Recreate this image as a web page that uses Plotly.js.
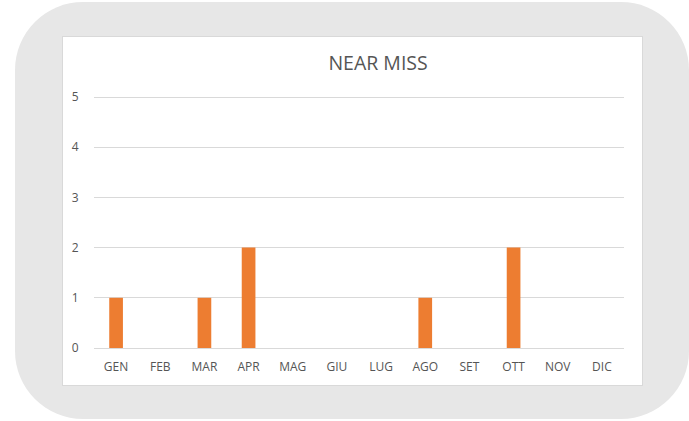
<!DOCTYPE html>
<html><head><meta charset="utf-8">
<script src="https://cdn.plot.ly/plotly-3.0.1.min.js"></script>
<style>
html,body{margin:0;padding:0;background:#fff;width:689px;height:421px;overflow:hidden;}
#outer{position:absolute;left:15px;top:2px;width:674px;height:417px;background:#e7e7e7;border-radius:68px;}
#inner{position:absolute;left:62px;top:36px;width:579px;height:348px;background:#fff;border:1px solid #d9d9d9;}
#chart{position:absolute;left:0;top:0;width:689px;height:421px;}
</style></head>
<body>
<div id="outer"></div><div id="inner"></div>
<div id="chart"></div>
<script>
const months = ["GEN","FEB","MAR","APR","MAG","GIU","LUG","AGO","SET","OTT","NOV","DIC"];
const nearMiss = [1,0,1,2,0,0,0,1,0,2,0,0];
const yTicks = [0,1,2,3,4,5];
const font = "'Open Sans', sans-serif";
Plotly.newPlot('chart', [{
  type:'bar', x:months, y:nearMiss,
  marker:{color:'#ED7D31'}, hoverinfo:'x+y'
}], {
  width:689, height:421,
  margin:{l:94, r:65, t:95, b:73, pad:0},
  paper_bgcolor:'rgba(0,0,0,0)', plot_bgcolor:'rgba(0,0,0,0)',
  bargap:0.69,
  showlegend:false,
  title:{text:'NEAR MISS', x:0.536, xref:'paper', xanchor:'center', y:1-63/421, yref:'container', yanchor:'middle',
    font:{family:font, size:19.5, color:'#555555'}},
  xaxis:{type:'category', showgrid:false, zeroline:false, showline:true, linecolor:'#d9d9d9', linewidth:1,
    ticks:'outside', ticklen:8, tickcolor:'rgba(0,0,0,0)',
    tickfont:{family:font, size:12, color:'#555555'}},
  yaxis:{range:[0,5.04], tickvals:yTicks, showgrid:true, gridcolor:'#d9d9d9', gridwidth:1,
    zeroline:true, zerolinecolor:'#d9d9d9', showline:false,
    ticks:'outside', ticklen:12, tickcolor:'rgba(0,0,0,0)',
    tickfont:{family:font, size:12, color:'#555555'}}
}, {displayModeBar:false, staticPlot:true});
</script>
</body></html>
